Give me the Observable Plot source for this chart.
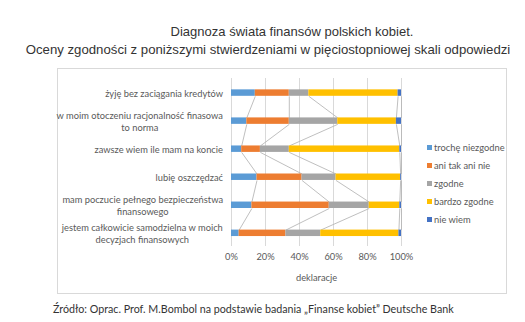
<!DOCTYPE html>
<html>
<head>
<meta charset="utf-8">
<script src="https://cdn.jsdelivr.net/npm/d3@7"></script>
<script src="https://cdn.jsdelivr.net/npm/@observablehq/plot@0.6"></script>
<style>
  html, body { margin: 0; padding: 0; background: #fff; }
  #wrap { position: relative; width: 525px; height: 322px; overflow: hidden; background: #fff; }
  .title { position: absolute; font-family: "Liberation Sans", Arial, sans-serif; font-size: 13px; color: #333; white-space: nowrap; transform: translateX(-50%); }
  #frame { position: absolute; left: 57px; top: 68px; width: 450px; height: 226px; border: 1px solid #d9d9d9; box-sizing: border-box; }
  #chart { position: absolute; left: 0; top: 70px; }
  #legend { position: absolute; left: 427px; top: 138px; font-family: Lato, sans-serif; font-size: 9.3px; color: #595959; }
  #legend .item { height: 18px; display: flex; align-items: center; white-space: nowrap; }
  #legend .sw { width: 5px; height: 5px; margin-right: 2px; }
  #source { position: absolute; left: 53px; top: 302px; font-family: Lato, sans-serif; font-size: 10.7px; color: #333; white-space: nowrap; }
</style>
</head>
<body>
<div id="wrap">
  <div class="title" style="left:292px; top:24px;">Diagnoza świata finansów polskich kobiet.</div>
  <div class="title" style="left:268px; top:42px; font-size:13.2px;">Oceny zgodności z poniższymi stwierdzeniami w pięciostopniowej skali odpowiedzi</div>
  <div id="frame"></div>
  <div id="chart"></div>
  <div id="legend"></div>
  <div id="source">Źródło: Oprac. Prof. M.Bombol na podstawie badania „Finanse kobiet” Deutsche Bank</div>
</div>
<script>
// ---- data ----
const categories = [
  "żyję bez zaciągania kredytów",
  "w moim otoczeniu racjonalność finasowa\nto norma",
  "zawsze wiem ile mam na koncie",
  "lubię oszczędzać",
  "mam poczucie pełnego bezpieczeństwa\nfinansowego",
  "jestem całkowicie samodzielna w moich\ndecyzjach finansowych"
];
const series = ["trochę niezgodne", "ani tak ani nie", "zgodne", "bardzo zgodne", "nie wiem"];
const trocheNiezgodne = [14, 9, 6, 15, 12, 4.5];
const aniTakAniNie    = [20, 25, 11, 26.5, 45.5, 27.5];
const zgodne          = [11.5, 28.5, 17, 20, 23.5, 20.5];
const bardzoZgodne    = [52.5, 34.5, 65, 38, 18, 46];
const nieWiem         = [2, 3, 1, 0.5, 1, 1.5];
const xTicks = [0, 0.2, 0.4, 0.6, 0.8, 1];
const xLabel = "deklaracje";

const colors = ["#5b9bd5", "#ed7d31", "#a5a5a5", "#ffc000", "#4472c4"];
const seriesValues = [trocheNiezgodne, aniTakAniNie, zgodne, bardzoZgodne, nieWiem];

// ---- derived tables ----
const h = 0.115; // half bar thickness in band units
const rects = [];
const ends = [];
categories.forEach((c, i) => {
  const total = d3.sum(seriesValues, s => s[i]);
  let cum = 0;
  ends[i] = [];
  series.forEach((s, j) => {
    const v = seriesValues[j][i];
    rects.push({cat: c, i, series: s, x1: cum / total, x2: (cum + v) / total});
    cum += v;
    ends[i][j] = cum / total;
  });
});
const links = [];
series.forEach((s, j) => {
  for (let i = 0; i < categories.length - 1; i++) {
    links.push({x1: ends[i][j], y1: i + h, x2: ends[i + 1][j], y2: i + 1 - h});
  }
});

// measure label widths for centered multi-line labels
const labelSize = 9.3;
const ctx = document.createElement("canvas").getContext("2d");
ctx.font = `${labelSize}px Lato`;
const labelMarks = categories.map((c, i) => {
  const w = d3.max(c.split("\n"), l => ctx.measureText(l).width);
  return Plot.text([c], {
    x: () => 0, y: () => i, text: d => d,
    textAnchor: "middle", lineAnchor: "middle", lineHeight: 1.24,
    dx: -(8.5 + w / 2), fontFamily: "Lato", fontSize: labelSize, fill: "#595959"
  });
});

const chart = Plot.plot({
  width: 420, height: 220,
  marginLeft: 231, marginRight: 19, marginTop: 8, marginBottom: 44,
  style: {background: "transparent", fontFamily: "Lato", fontSize: "9.3px", color: "#595959"},
  x: {domain: [0, 1]},
  y: {domain: [-0.52, 5.47], reverse: true, axis: null},
  color: {domain: series, range: colors},
  marks: [
    Plot.gridX(xTicks, {stroke: "#d9d9d9", strokeOpacity: 1, strokeWidth: 1}),
    Plot.axisX({ticks: xTicks, tickFormat: d3.format(".0%"), tickSize: 0, tickPadding: 7,
      label: xLabel, labelAnchor: "center", labelArrow: "none", labelOffset: 34,
      fontFamily: "Lato", fontSize: 9.3, fill: "#595959"}),
    Plot.link(links, {x1: "x1", y1: "y1", x2: "x2", y2: "y2", stroke: "#b8b8b8", strokeWidth: 0.9}),
    Plot.rect(rects, {x1: "x1", x2: "x2", y1: d => d.i - h, y2: d => d.i + h, fill: "series"}),
    ...labelMarks
  ]
});
document.getElementById("chart").appendChild(chart);

// legend
const lg = document.getElementById("legend");
series.forEach((s, j) => {
  const it = document.createElement("div");
  it.className = "item";
  const sw = document.createElement("span");
  sw.className = "sw";
  sw.style.background = colors[j];
  it.appendChild(sw);
  it.appendChild(document.createTextNode(s));
  lg.appendChild(it);
});
</script>
</body>
</html>
